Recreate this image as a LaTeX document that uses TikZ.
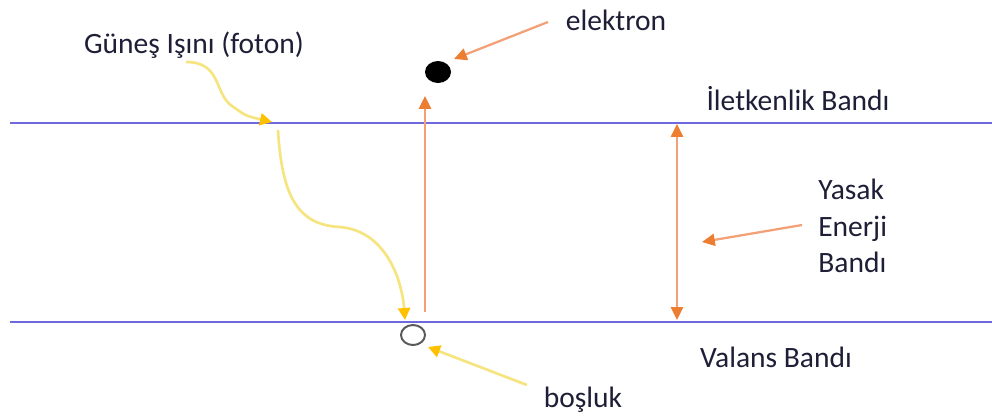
\documentclass[tikz,border=0pt]{standalone}
\usepackage{fontspec}
\setmainfont{Carlito}
\usetikzlibrary{arrows.meta, shapes.geometric}

\definecolor{bandblue}{RGB}{112,104,222}
\definecolor{txtdark}{RGB}{30,30,55}
\definecolor{arrline}{RGB}{244,160,118}
\definecolor{arrtip}{RGB}{237,125,49}
\definecolor{phline}{RGB}{246,228,128}
\definecolor{phtip}{RGB}{255,192,0}

\tikzset{
  lbl/.style={inner sep=0pt, text=txtdark, font=\fontsize{21}{26}\selectfont},
  band/.style={bandblue, line width=1.1pt},
  orangearr/.style={arrline, line width=1.6pt, -{Triangle[length=3.2mm, width=3mm, color=arrtip]}},
  photon/.style={phline, line width=1.9pt, -{Triangle[length=3mm, width=3mm, color=phtip]}}
}

\begin{document}
\begin{tikzpicture}[x=0.025cm, y=-0.025cm]
    \useasboundingbox (0,0) rectangle (992,416);

    % Bands
    \coordinate (cbL) at (10,123);
    \coordinate (cbR) at (992,123);
    \coordinate (vbL) at (10,322);
    \coordinate (vbR) at (992,322);
    \draw[band] (cbL) -- (cbR);
    \draw[band] (vbL) -- (vbR);

    % Labels
    \node[lbl] (sun) at (194,45) {Güneş Işını (foton)};
    \node[lbl] (elabel) at (616,20) {elektron};
    \node[lbl] (cblabel) at (798,99) {İletkenlik Bandı};
    \node[lbl, align=left, anchor=west] (gaplabel) at (818,226) {Yasak\\Enerji\\Bandı};
    \node[lbl] (vblabel) at (776,357) {Valans Bandı};
    \node[lbl] (hlabel) at (583,400) {boşluk};

    % Particles
    \node[ellipse, fill=black, minimum width=0.65cm, minimum height=0.55cm, inner sep=0pt] (electron) at (438,72) {};
    \node[ellipse, draw=black!65, line width=1.4pt, fill=white, minimum width=0.6cm, minimum height=0.5cm, inner sep=0pt] (hole) at (413,335) {};

    % Excitation
    \coordinate (jumpA) at (425,312);
    \coordinate (jumpB) at (425,96);
    \draw[orangearr] (jumpA) -- (jumpB);

    % Gap width
    \coordinate (gapT) at (677,124);
    \coordinate (gapB) at (677,320);
    \draw[arrline, line width=1.6pt, {Triangle[length=3.2mm, width=3mm, color=arrtip]}-{Triangle[length=3.2mm, width=3mm, color=arrtip]}] (gapT) -- (gapB);

    % Pointers
    \coordinate (eFrom) at (548,22);
    \coordinate (eTo) at (454,59);
    \draw[orangearr] (eFrom) -- (eTo);
    \coordinate (gFrom) at (802,225);
    \coordinate (gTo) at (702,242);
    \draw[orangearr] (gFrom) -- (gTo);
    \coordinate (hFrom) at (527,385);
    \coordinate (hTo) at (428,347);
    \draw[photon] (hFrom) -- (hTo);

    % Photon path
    \coordinate (ps) at (186,62);
    \coordinate (pin) at (272,122);
    \coordinate (pout) at (278,130);
    \coordinate (pend) at (405,320);
    \draw[photon] (ps) .. controls (222,62) and (214,94) .. (232,106) .. controls (246,116) .. (pin);
    \draw[photon] (pout) .. controls (282,200) and (300,225) .. (340,227) .. controls (386,231) and (402,280) .. (pend);
\end{tikzpicture}
\end{document}
